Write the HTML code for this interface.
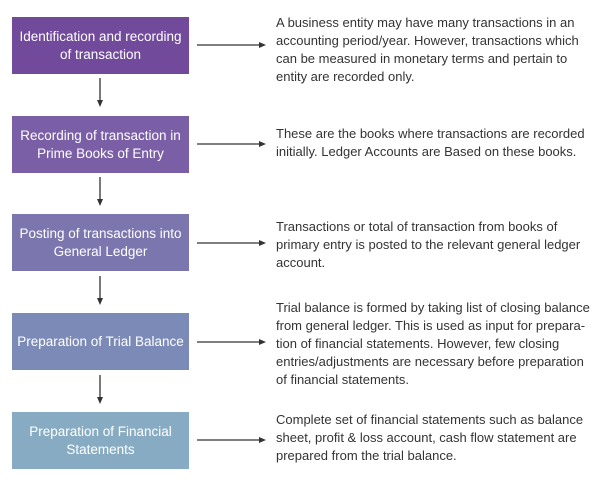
<!DOCTYPE html>
<html><head><meta charset="utf-8"><style>
body{margin:0;width:600px;height:483px;background:#fff;position:relative;overflow:hidden;font-family:"Liberation Sans",sans-serif}
.b{position:absolute;left:12px;width:177px;height:57px;color:#fff;font-size:13.5px;line-height:18px;display:flex;align-items:center;justify-content:center;text-align:center}
.t{position:absolute;left:276px;font-size:13px;line-height:18px;color:#333;white-space:nowrap}
svg{position:absolute;left:0;top:0}
</style></head><body>
<div class="b" style="top:17px;background:#714a9c">Identification and recording<br>of transaction</div>
<div class="b" style="top:116px;background:#7a5fa6">Recording of transaction in<br>Prime Books of Entry</div>
<div class="b" style="top:214px;background:#7b76ad">Posting of transactions into<br>General Ledger</div>
<div class="b" style="top:313px;background:#7c8ab7">Preparation of Trial Balance</div>
<div class="b" style="top:412px;background:#87abc2">Preparation of Financial<br>Statements</div>
<svg width="600" height="483">
<g stroke="#333" stroke-width="1.3" fill="#333">
<line x1="197" y1="45" x2="261" y2="45"/><polygon points="266,45 259,42 259,48" stroke="none"/>
<line x1="197" y1="144" x2="261" y2="144"/><polygon points="266,144 259,141 259,147" stroke="none"/>
<line x1="197" y1="243" x2="261" y2="243"/><polygon points="266,243 259,240 259,246" stroke="none"/>
<line x1="197" y1="342" x2="261" y2="342"/><polygon points="266,342 259,339 259,345" stroke="none"/>
<line x1="197" y1="440" x2="261" y2="440"/><polygon points="266,440 259,437 259,443" stroke="none"/>
<line x1="100" y1="78" x2="100" y2="102"/><polygon points="100,107 97,100 103,100" stroke="none"/>
<line x1="100" y1="177" x2="100" y2="201"/><polygon points="100,206 97,199 103,199" stroke="none"/>
<line x1="100" y1="276" x2="100" y2="300"/><polygon points="100,305 97,298 103,298" stroke="none"/>
<line x1="100" y1="375" x2="100" y2="399"/><polygon points="100,404 97,397 103,397" stroke="none"/>
</g></svg>
<div class="t" style="top:14px">A business entity may have many transactions in an<br>accounting period/year. However, transactions which<br>can be measured in monetary terms and pertain to<br>entity are recorded only.</div>
<div class="t" style="top:125px">These are the books where transactions are recorded<br>initially. Ledger Accounts are Based on these books.</div>
<div class="t" style="top:218px">Transactions or total of transaction from books of<br>primary entry is posted to the relevant general ledger<br>account.</div>
<div class="t" style="top:299px">Trial balance is formed by taking list of closing balance<br>from general ledger. This is used as input for prepara-<br>tion of financial statements. However, few closing<br>entries/adjustments are necessary before preparation<br>of financial statements.</div>
<div class="t" style="top:411px">Complete set of financial statements such as balance<br>sheet, profit &amp; loss account, cash flow statement are<br>prepared from the trial balance.</div>
</body></html>
